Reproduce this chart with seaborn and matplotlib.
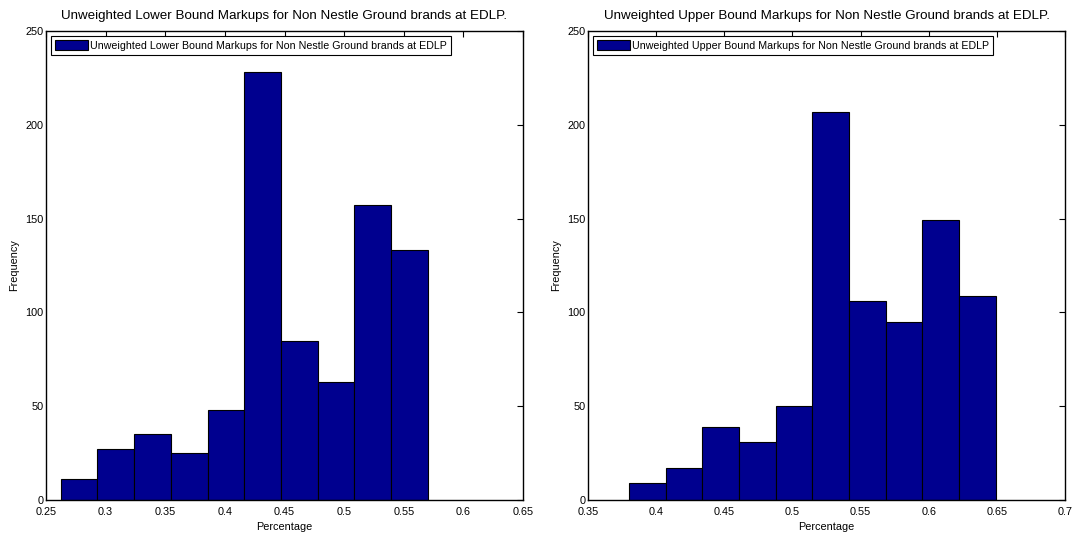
import numpy as np
import pandas as pd
import matplotlib
matplotlib.use("Agg")
import matplotlib.pyplot as plt
import seaborn as sns
from matplotlib.patches import Patch

sns.set_style("white")
plt.rcParams['font.family'] = ['Liberation Sans', 'DejaVu Sans']
plt.rcParams['text.color'] = 'black'
plt.rcParams['axes.labelcolor'] = 'black'

# Data
lower_start = 0.2624
lower_width = 0.03077
lower_counts = [11, 27, 35, 25, 48, 228, 85, 63, 157, 133]

upper_start = 0.3800
upper_width = 0.02693
upper_counts = [9, 17, 39, 31, 50, 207, 106, 95, 149, 109]

lower_title = "Unweighted Lower Bound Markups for Non Nestle Ground brands at EDLP."
upper_title = "Unweighted Upper Bound Markups for Non Nestle Ground brands at EDLP."
lower_label = "Unweighted Lower Bound Markups for Non Nestle Ground brands at EDLP"
upper_label = "Unweighted Upper Bound Markups for Non Nestle Ground brands at EDLP"

lower_xticks = [0.25, 0.3, 0.35, 0.4, 0.45, 0.5, 0.55, 0.6, 0.65]
upper_xticks = [0.35, 0.4, 0.45, 0.5, 0.55, 0.6, 0.65, 0.7]
yticks = [0, 50, 100, 150, 200, 250]

BAR = "#00008F"

fig = plt.figure(figsize=(10.77, 5.40), dpi=100)
W, H = 1077, 540
ax1 = fig.add_axes([46 / W, 1 - 500 / H, (523 - 46) / W, (500 - 31) / H])
ax2 = fig.add_axes([588 / W, 1 - 500 / H, (1065 - 588) / W, (500 - 31) / H])


def draw(ax, start, width, counts, xticks, title, label):
    n = len(counts)
    centers = start + width * (np.arange(n) + 0.5)
    df = pd.DataFrame({"x": centers, "w": np.asarray(counts, dtype=float)})
    sns.histplot(data=df, x="x", weights="w", binwidth=width,
                 binrange=(start, start + n * width), ax=ax,
                 color=BAR, alpha=1.0, edgecolor="black", linewidth=0.8)
    ax.set_xlim(xticks[0], xticks[-1])
    ax.set_ylim(0, 250)
    ax.set_xticks(xticks)
    ax.set_xticklabels([f"{t:g}" for t in xticks])
    ax.set_yticks(yticks)
    ax.tick_params(direction="in", top=True, right=True, length=4, width=0.8,
                   labelsize=7.8, colors="black")
    ax.tick_params(axis="x", pad=5)
    ax.tick_params(axis="y", pad=2)
    for s in ax.spines.values():
        s.set_visible(True)
        s.set_color("black")
        s.set_linewidth(1.0)
    ax.set_title(title, fontsize=9.6, pad=8.5, color="black")
    ax.set_xlabel("Percentage", fontsize=7.8, labelpad=4)
    ax.set_ylabel("Frequency", fontsize=7.8, labelpad=4)
    handle = Patch(facecolor=BAR, edgecolor="black", linewidth=0.8)
    leg = ax.legend([handle], [label], loc="upper left",
                    fontsize=7.7, frameon=True, fancybox=False, edgecolor="black",
                    framealpha=1, handlelength=3.1, handleheight=1.1,
                    handletextpad=0.15, borderpad=0.4, borderaxespad=0.45)
    leg.get_frame().set_linewidth(0.8)


draw(ax1, lower_start, lower_width, lower_counts, lower_xticks, lower_title, lower_label)
draw(ax2, upper_start, upper_width, upper_counts, upper_xticks, upper_title, upper_label)

fig.savefig("out.png", dpi=100)
